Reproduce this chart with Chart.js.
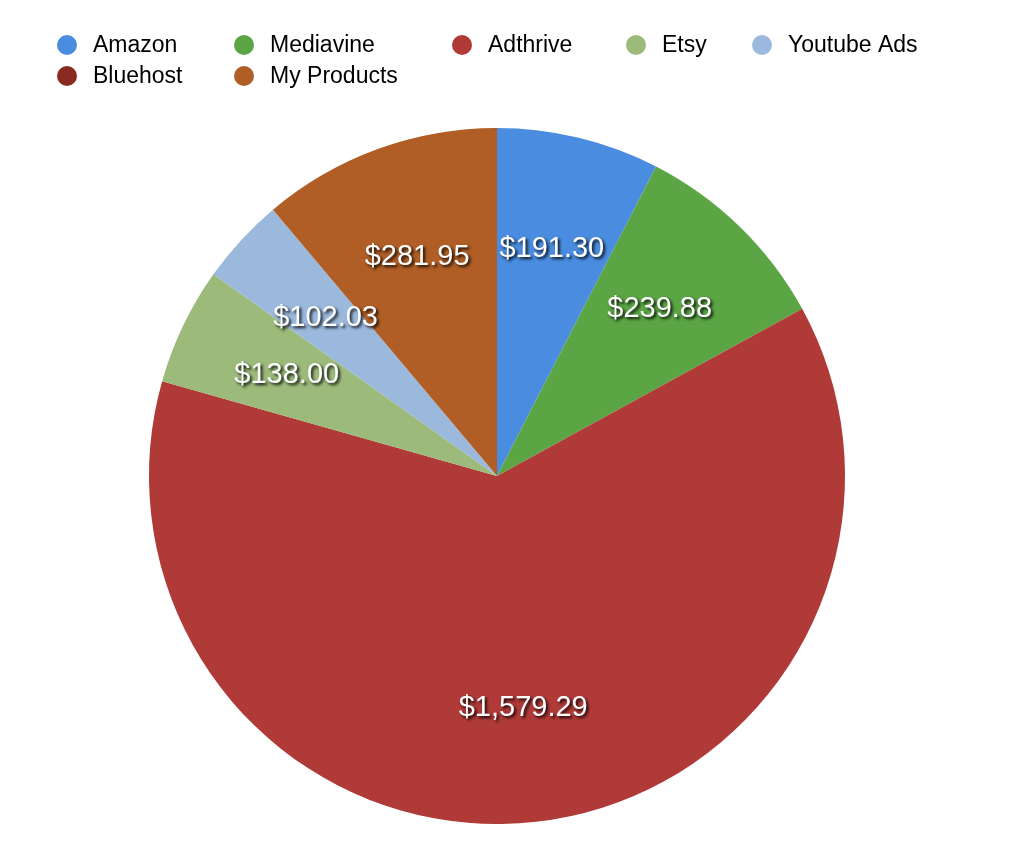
<!DOCTYPE html>
<html><head><meta charset="utf-8">
<script src="https://cdn.jsdelivr.net/npm/chart.js@4/dist/chart.umd.min.js"></script>
<style>html,body{margin:0;padding:0;background:#fff}#w{width:1024px;height:866px}</style>
</head><body><div id="w"><canvas id="c"></canvas></div>
<script>
const categories = ["Amazon","Mediavine","Adthrive","Etsy","Youtube Ads","Bluehost","My Products"];
const values = [191.30, 239.88, 1579.29, 138.00, 102.03, 0, 281.95];
const labels = ["$191.30","$239.88","$1,579.29","$138.00","$102.03","","$281.95"];
const colors = ["#4a8de0","#5ba545","#b03a37","#9cbb7b","#9bb9dc","#8a2b22","#b05e25"];

const legendPos = [[67,45],[244,45],[462,45],[636,45],[762,45],[67,76],[244,76]];
const legendPlugin = {
  id:'lgd',
  afterDraw(chart){
    const ctx = chart.ctx;
    ctx.save();
    ctx.font = '23px "Liberation Sans", Arial, sans-serif';
    ctx.textBaseline='middle'; ctx.textAlign='left';
    categories.forEach((c,i)=>{
      const [x,y] = legendPos[i];
      ctx.beginPath(); ctx.arc(x,y,10,0,Math.PI*2);
      ctx.fillStyle=colors[i]; ctx.fill();
      ctx.fillStyle='#000'; ctx.fillText(c, x+26, y+1);
    });
    ctx.restore();
  }
};

const labelPlugin = {
  id:'lbl',
  afterDatasetsDraw(chart){
    const ctx = chart.ctx;
    chart.getDatasetMeta(0).data.forEach((arc,i)=>{
      if(!labels[i]) return;
      const a = (arc.startAngle+arc.endAngle)/2;
      const r = arc.outerRadius*0.67;
      const x = arc.x + Math.cos(a)*r, y = arc.y + Math.sin(a)*r;
      ctx.save();
      ctx.font = '29px "Liberation Sans", Arial, sans-serif';
      ctx.textAlign='center'; ctx.textBaseline='middle';
      ctx.shadowColor='rgba(0,0,0,0.9)'; ctx.shadowOffsetX=2; ctx.shadowOffsetY=2; ctx.shadowBlur=3;
      ctx.fillStyle='#fff';
      ctx.fillText(labels[i], x, y);
      ctx.restore();
    });
  }
};

new Chart(document.getElementById('c'), {
  type:'pie',
  data:{labels:categories, datasets:[{data:values, backgroundColor:colors, borderWidth:0}]},
  options:{
    responsive:true, maintainAspectRatio:false, animation:false,
    layout:{padding:{top:128,bottom:42,left:0,right:30}},
    plugins:{ tooltip:{enabled:false}, legend:{display:false} }
  },
  plugins:[labelPlugin, legendPlugin]
});
</script></body></html>
